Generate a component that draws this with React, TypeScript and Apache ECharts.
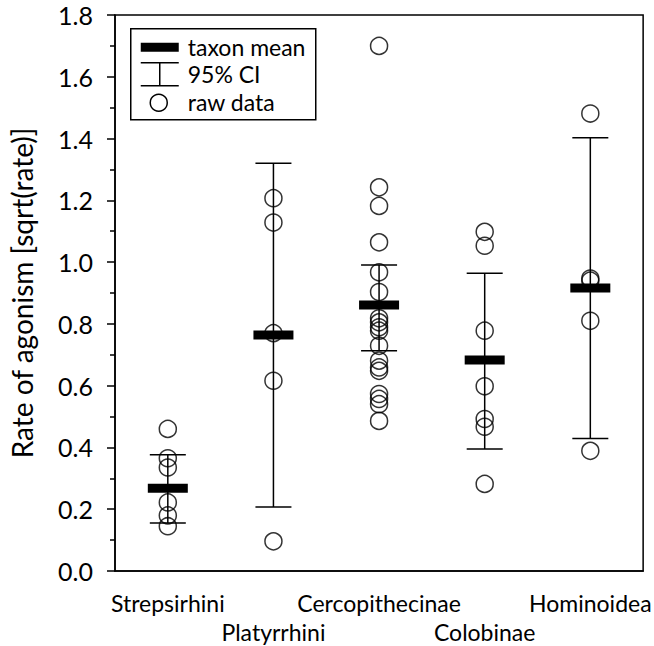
import React, { useEffect, useRef } from "react";
import * as echarts from "echarts";

const categories = ["Strepsirhini", "Platyrrhini", "Cercopithecinae", "Colobinae", "Hominoidea"];

const strepsirhiniRaw = [0.46, 0.365, 0.335, 0.222, 0.18, 0.145];
const platyrrhiniRaw = [1.207, 1.128, 0.77, 0.616, 0.096];
const cercopithecinaeRaw = [1.70, 1.242, 1.182, 1.064, 0.967, 0.903, 0.818, 0.805, 0.789, 0.778, 0.729, 0.681, 0.659, 0.648, 0.573, 0.557, 0.54, 0.486];
const colobinaeRaw = [1.098, 1.053, 0.778, 0.598, 0.492, 0.467, 0.282];
const hominoideaRaw = [1.481, 0.947, 0.94, 0.81, 0.389];

const taxonMeans = [0.268, 0.764, 0.861, 0.683, 0.916];
const ciLower = [0.155, 0.207, 0.713, 0.395, 0.429];
const ciUpper = [0.376, 1.32, 0.991, 0.964, 1.403];

const yTicks = [0, 0.2, 0.4, 0.6, 0.8, 1.0, 1.2, 1.4, 1.6, 1.8];

const rawGroups = [strepsirhiniRaw, platyrrhiniRaw, cercopithecinaeRaw, colobinaeRaw, hominoideaRaw];

const FONT = "Lato";

export default function App() {
  const ref = useRef<HTMLDivElement>(null);

  useEffect(() => {
    if (!ref.current) return;
    const chart = echarts.init(ref.current, undefined, { renderer: "svg" });

    const rawData: [string, number][] = [];
    rawGroups.forEach((g, i) => g.forEach((v) => rawData.push([categories[i], v])));

    const summaryData = categories.map((c, i) => [i, taxonMeans[i], ciLower[i], ciUpper[i]]);

    const legendX = 130;
    const legendY = 28;

    const option: any = {
      animation: false,
      backgroundColor: "#fff",
      grid: {
        left: 113,
        right: 7,
        top: 15,
        bottom: 74,
        show: true,
        borderColor: "#000",
        borderWidth: 1.5,
        backgroundColor: "transparent",
      },
      xAxis: {
        type: "category",
        data: categories,
        boundaryGap: true,
        axisLine: { lineStyle: { color: "#000", width: 1.5 } },
        axisTick: { alignWithLabel: true, length: 8, lineStyle: { color: "#000", width: 1.5 } },
        axisLabel: {
          interval: 0,
          color: "#000",
          fontFamily: FONT,
          fontSize: 23,
          margin: 17,
          lineHeight: 29,
          formatter: (v: string, idx: number) => (idx % 2 === 1 ? "\n" + v : v),
        },
        splitLine: { show: false },
      },
      yAxis: {
        type: "value",
        min: 0,
        max: 1.8,
        interval: 0.2,
        name: "Rate of agonism [sqrt(rate)]",
        nameLocation: "middle",
        nameGap: 79,
        nameTextStyle: { color: "#000", fontFamily: FONT, fontSize: 28 },
        axisLine: { show: true, lineStyle: { color: "#000", width: 1.5 } },
        axisTick: { show: true, length: 8, lineStyle: { color: "#000", width: 1.5 } },
        minorTick: { show: true, splitNumber: 2, length: 5, lineStyle: { color: "#000", width: 1.5 } },
        axisLabel: {
          color: "#000",
          fontFamily: FONT,
          fontSize: 25,
          margin: 22,
          formatter: (v: number) => {
            const t = yTicks.find((x) => Math.abs(x - v) < 1e-6);
            return (t !== undefined ? t : v).toFixed(1);
          },
        },
        splitLine: { show: false },
      },
      series: [
        {
          name: "raw data",
          type: "scatter",
          data: rawData,
          symbol: "circle",
          symbolSize: 17,
          itemStyle: { color: "rgba(0,0,0,0)", borderColor: "#000", borderWidth: 1.5 },
          z: 2,
        },
        {
          name: "summary",
          type: "custom",
          data: summaryData,
          z: 3,
          renderItem: (params: any, api: any) => {
            const x = api.value(0);
            const mean = api.value(1);
            const lo = api.value(2);
            const hi = api.value(3);
            const pHi = api.coord([x, hi]);
            const pLo = api.coord([x, lo]);
            const pM = api.coord([x, mean]);
            const capW = 36;
            const barW = 40;
            const barH = 9;
            const st = { stroke: "#000", lineWidth: 1.5 };
            return {
              type: "group",
              children: [
                { type: "line", shape: { x1: pHi[0], y1: pHi[1], x2: pLo[0], y2: pLo[1] }, style: st },
                { type: "line", shape: { x1: pHi[0] - capW / 2, y1: pHi[1], x2: pHi[0] + capW / 2, y2: pHi[1] }, style: st },
                { type: "line", shape: { x1: pLo[0] - capW / 2, y1: pLo[1], x2: pLo[0] + capW / 2, y2: pLo[1] }, style: st },
                { type: "rect", shape: { x: pM[0] - barW / 2, y: pM[1] - barH / 2, width: barW, height: barH }, style: { fill: "#000" } },
              ],
            };
          },
        },
      ],
      graphic: [
        {
          type: "group",
          left: legendX,
          top: legendY,
          z: 10,
          children: [
            { type: "rect", shape: { x: 0, y: 0, width: 185, height: 91 }, style: { fill: "#fff", stroke: "#000", lineWidth: 1.5 } },
            { type: "rect", shape: { x: 10, y: 14, width: 38, height: 9 }, style: { fill: "#000" } },
            { type: "line", shape: { x1: 10, y1: 34, x2: 48, y2: 34 }, style: { stroke: "#000", lineWidth: 1.5 } },
            { type: "line", shape: { x1: 10, y1: 57, x2: 48, y2: 57 }, style: { stroke: "#000", lineWidth: 1.5 } },
            { type: "line", shape: { x1: 29, y1: 34, x2: 29, y2: 57 }, style: { stroke: "#000", lineWidth: 1.5 } },
            { type: "circle", shape: { cx: 28, cy: 74, r: 8.5 }, style: { fill: "none", stroke: "#000", lineWidth: 1.5 } },
            { type: "text", x: 57, y: 18, style: { text: "taxon mean", fontFamily: FONT, fontSize: 23, fill: "#000", verticalAlign: "middle" } },
            { type: "text", x: 57, y: 45, style: { text: "95% CI", fontFamily: FONT, fontSize: 23, fill: "#000", verticalAlign: "middle" } },
            { type: "text", x: 57, y: 73, style: { text: "raw data", fontFamily: FONT, fontSize: 23, fill: "#000", verticalAlign: "middle" } },
          ],
        },
      ],
    };

    chart.setOption(option);
    return () => chart.dispose();
  }, []);

  return (
    <div
      ref={ref}
      style={{ position: "absolute", left: 0, top: 0, width: 654, height: 646 }}
    />
  );
}
